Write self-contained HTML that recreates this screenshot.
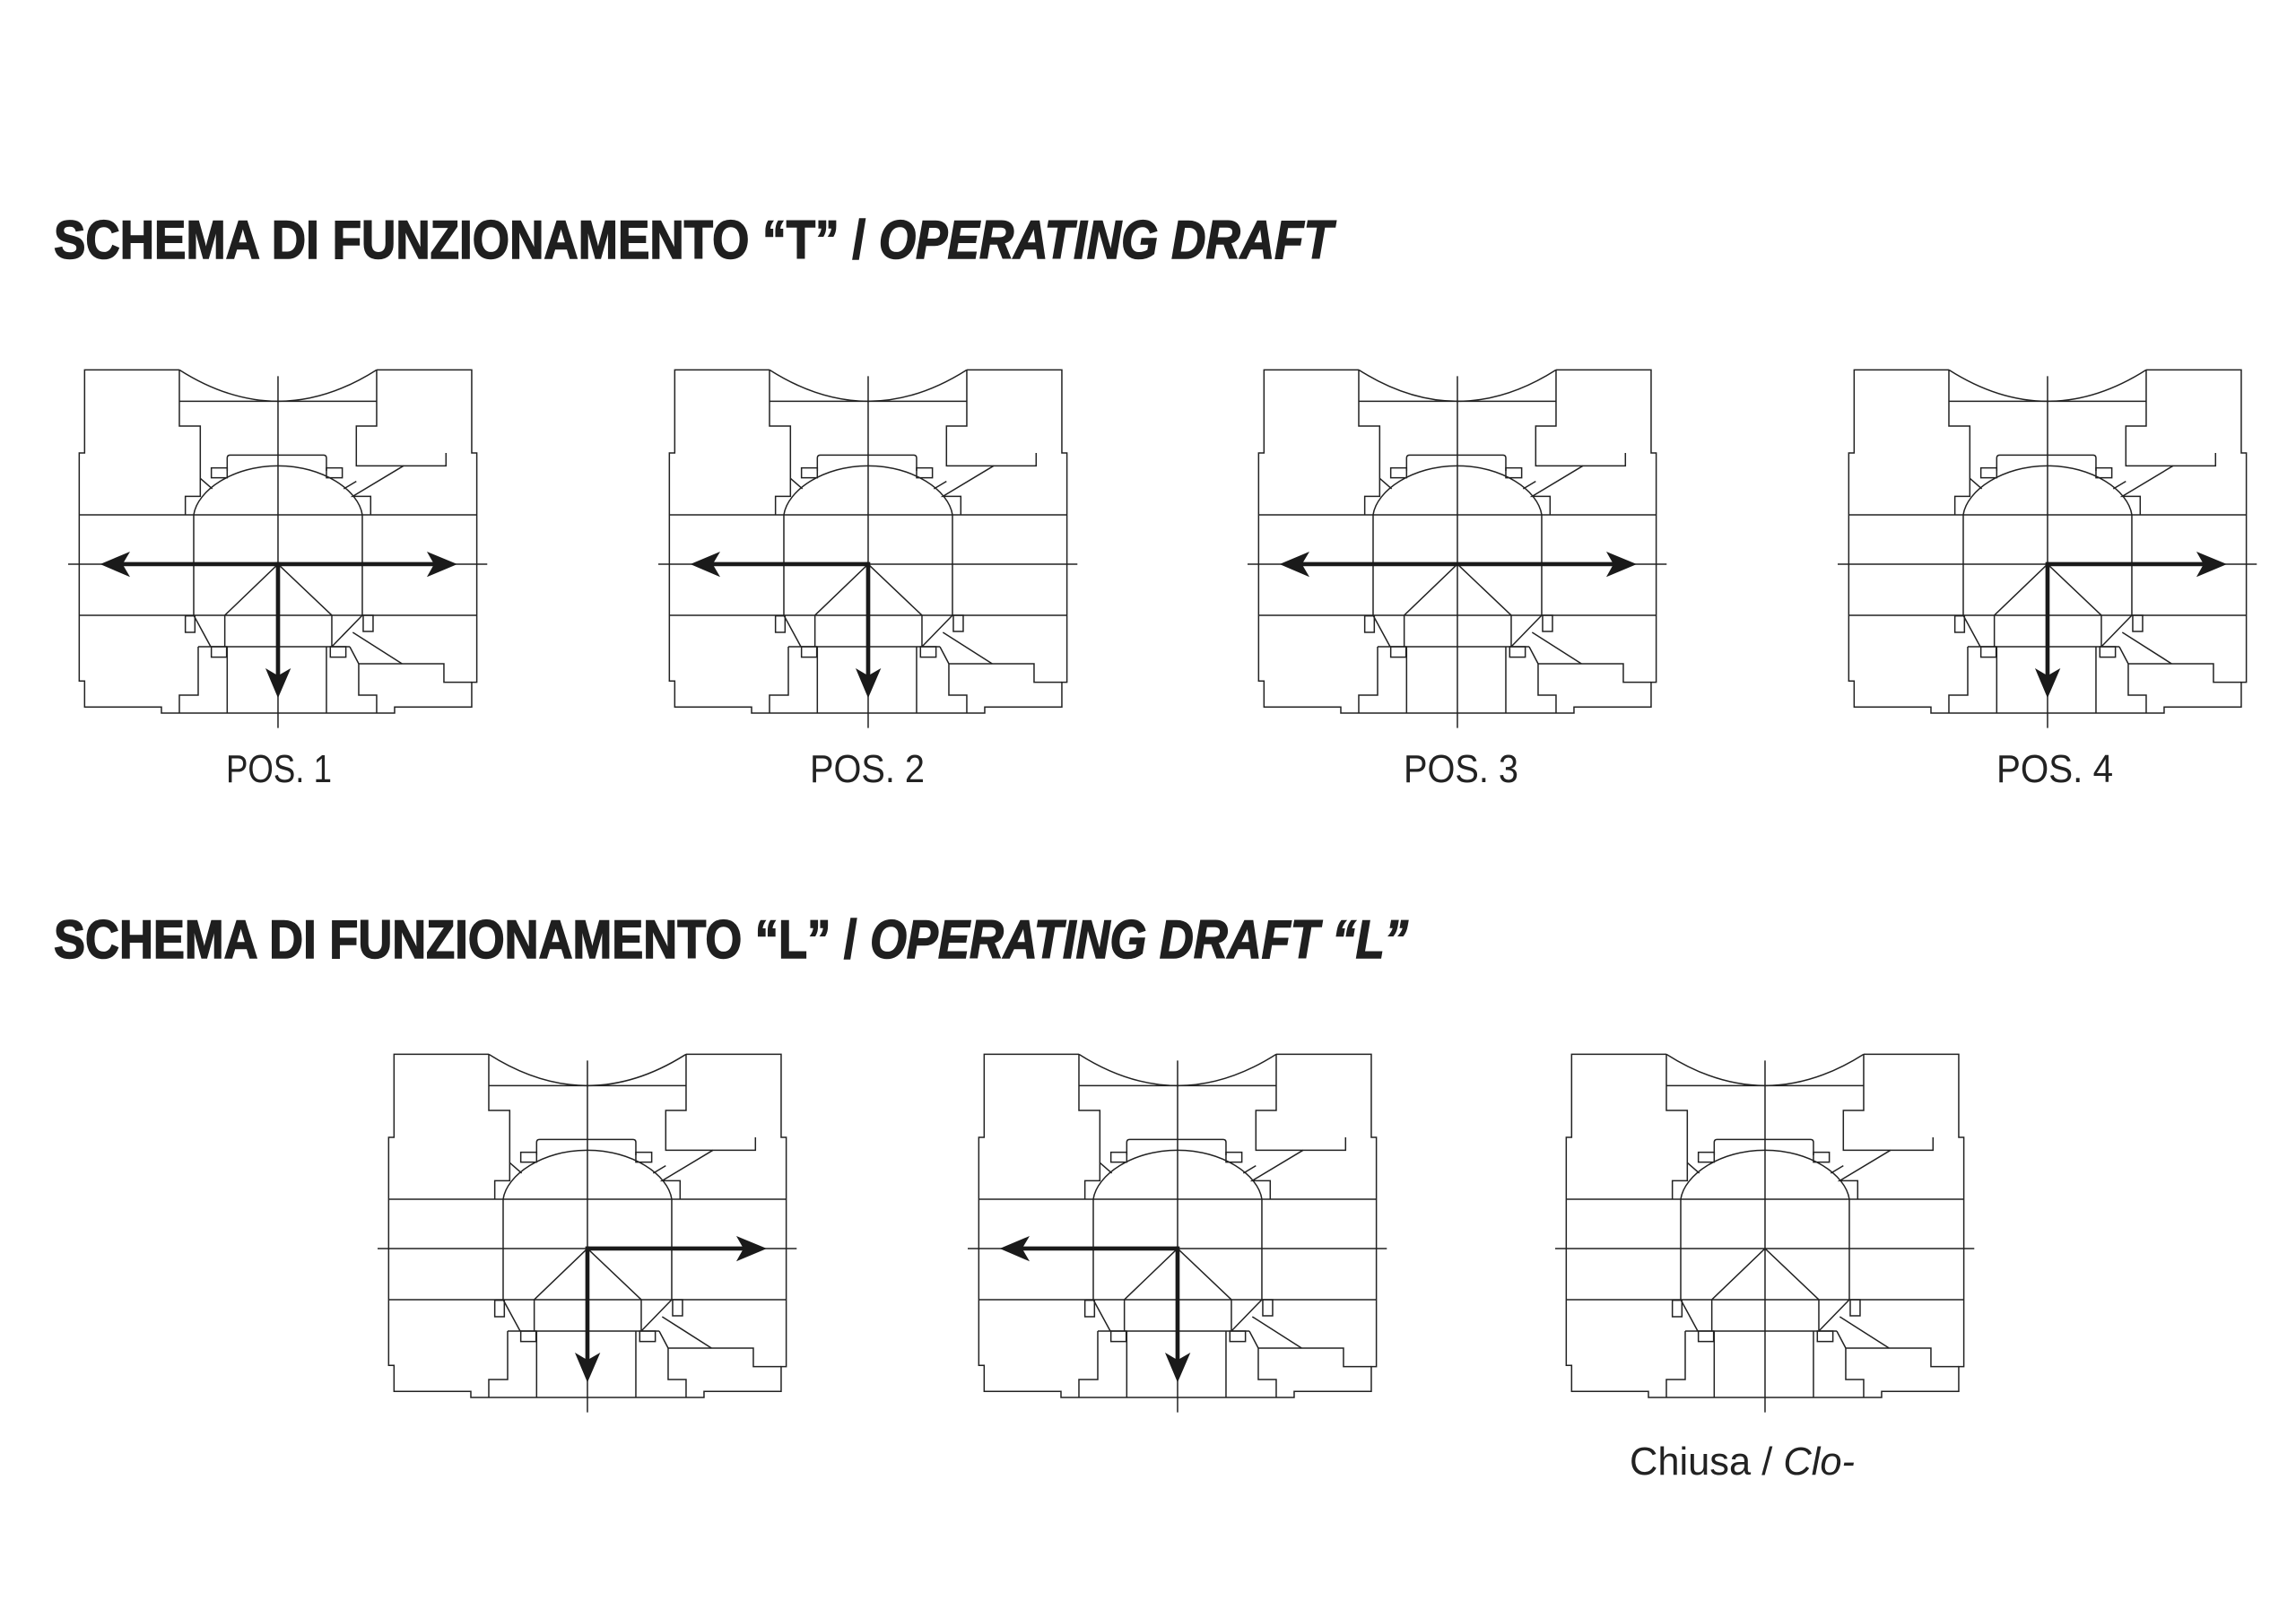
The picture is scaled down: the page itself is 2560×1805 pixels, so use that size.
<!DOCTYPE html>
<html><head><meta charset="utf-8"><style>
html,body{margin:0;padding:0;background:#fff;}
svg{display:block;}
</style></head><body>
<svg width="2560" height="1805" viewBox="0 0 2560 1805" xmlns="http://www.w3.org/2000/svg">
<defs>
<g id="v" fill="none" stroke="#222" stroke-width="4.5" stroke-linejoin="miter">
<path d="M420,67 L103,67 L103,345 L85,345 L85,1108 L103,1108 L103,1195 L360,1195 L360,1215 L1140,1215 L1140,1195 L1398,1195 L1398,1112 L1415,1112 L1415,345 L1398,345 L1398,67 L1080,67"/>
<path d="M420,67 Q750,277 1080,67"/>
<path d="M420,172 L1080,172"/>
<path d="M420,67 L420,255 L490,255 L490,490 L440,490 L440,552"/>
<path d="M490,430 L530,465"/>
<path d="M1080,67 L1080,255 L1012,255 L1012,388 L1312,388 L1312,345"/>
<path d="M1170,388 L1000,490 L1060,490 L1060,552"/>
<path d="M1012,440 L970,465"/>
<path d="M580,405 L580,362 Q580,352 590,352 L902,352 Q912,352 912,362 L912,405"/>
<path d="M468,552 C480,470 600,388 750,388 C900,388 1020,470 1032,552"/>
<rect x="527" y="395" width="53" height="33"/>
<rect x="912" y="395" width="53" height="33"/>
<path d="M85,552 L1415,552 M85,888 L1415,888 M468,552 L468,888 M1032,552 L1032,888"/>
<path d="M750,88 L750,1265 M48,717 L1450,717"/>
<path d="M750,717 L572,888 L572,993 M750,717 L930,888 L930,993"/>
<path d="M468,888 L525,993 M1032,888 L930,993"/>
<rect x="440" y="890" width="32" height="55"/>
<rect x="1035" y="888" width="33" height="54"/>
<rect x="527" y="993" width="51" height="35"/>
<rect x="925" y="993" width="52" height="35"/>
<path d="M483,993 L990,993"/>
<path d="M483,993 L483,1155 L420,1155 L420,1215 M580,993 L580,1215 M912,993 L912,1215"/>
<path d="M990,993 L1020,1050 L1020,1155 L1080,1155 L1080,1215 M1020,1050 L1305,1050 L1305,1112 L1398,1112"/>
<path d="M1000,945 L1165,1050"/>
</g>
<g id="aL"><path d="M750,717 L220,717" stroke="#1a1a1a" stroke-width="14" fill="none"/><path d="M155,717 L255,675 L230,717 L255,760 Z" fill="#1a1a1a"/></g>
<g id="aR"><path d="M750,717 L1280,717" stroke="#1a1a1a" stroke-width="14" fill="none"/><path d="M1350,717 L1248,675 L1272,717 L1248,760 Z" fill="#1a1a1a"/></g>
<g id="aD"><path d="M750,710 L750,1100" stroke="#1a1a1a" stroke-width="14" fill="none"/><path d="M750,1165 L708,1065 L750,1090 L793,1065 Z" fill="#1a1a1a"/></g>
</defs>

<text x="60" y="288" font-family="Liberation Sans, sans-serif" font-weight="bold" font-size="60" fill="#1f1f1f" stroke="#1f1f1f" stroke-width="1.5" textLength="1426" lengthAdjust="spacingAndGlyphs">SCHEMA DI FUNZIONAMENTO “T” / <tspan font-style="italic">OPERATING DRAFT</tspan></text>
<text x="60" y="1068" font-family="Liberation Sans, sans-serif" font-weight="bold" font-size="60" fill="#1f1f1f" stroke="#1f1f1f" stroke-width="1.5" textLength="1510" lengthAdjust="spacingAndGlyphs">SCHEMA DI FUNZIONAMENTO “L” / <tspan font-style="italic">OPERATING DRAFT “L”</tspan></text>

<g transform="translate(60,390) scale(0.3333)"><use href="#v"/><use href="#aL"/><use href="#aR"/><use href="#aD"/></g>
<g transform="translate(718,390) scale(0.3333)"><use href="#v"/><use href="#aL"/><use href="#aD"/></g>
<g transform="translate(1375,390) scale(0.3333)"><use href="#v"/><use href="#aL"/><use href="#aR"/></g>
<g transform="translate(2033,390) scale(0.3333)"><use href="#v"/><use href="#aR"/><use href="#aD"/></g>

<g transform="translate(405,1153) scale(0.3333)"><use href="#v"/><use href="#aR"/><use href="#aD"/></g>
<g transform="translate(1063,1153) scale(0.3333)"><use href="#v"/><use href="#aL"/><use href="#aD"/></g>
<g transform="translate(1718,1153) scale(0.3333)"><use href="#v"/></g>

<g font-family="Liberation Sans, sans-serif" font-size="44" fill="#222">
<text x="252" y="872" textLength="118" lengthAdjust="spacingAndGlyphs">POS. 1</text>
<text x="903" y="872" textLength="128" lengthAdjust="spacingAndGlyphs">POS. 2</text>
<text x="1565" y="872" textLength="128" lengthAdjust="spacingAndGlyphs">POS. 3</text>
<text x="2226" y="872" textLength="130" lengthAdjust="spacingAndGlyphs">POS. 4</text>
<text x="1817" y="1644" textLength="251" lengthAdjust="spacingAndGlyphs">Chiusa / <tspan font-style="italic">Clo-</tspan></text>
</g>
</svg>
</body></html>
